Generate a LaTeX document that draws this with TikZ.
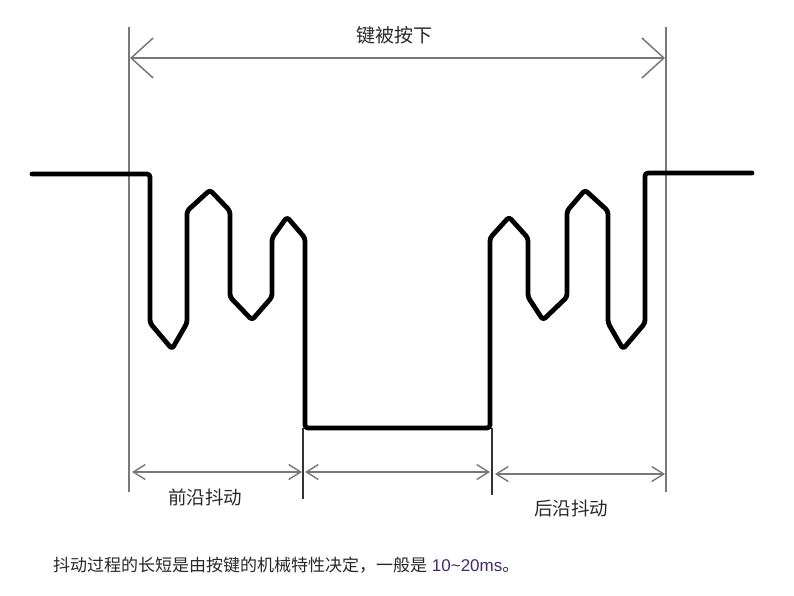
\documentclass[tikz,border=0pt]{standalone}
\usepackage{fontspec}
\setmainfont{Liberation Sans}
\newfontfamily\cjk{Noto Sans CJK SC}
\usetikzlibrary{arrows.meta}
\definecolor{dimgray}{RGB}{120,120,120}
\definecolor{txtgray}{RGB}{40,40,40}
\definecolor{numpurple}{RGB}{70,40,110}
\begin{document}
\begin{tikzpicture}[x=1pt,y=-1pt,
  signal/.style={line width=4.8pt,line join=round,line cap=round,black},
  guide/.style={line width=1.5pt,dimgray},
  guidedark/.style={line width=1.3pt,black!80},
  bigdim/.style={line width=1.5pt,dimgray,{Straight Barb[length=22pt,width=40pt,line width=1.5pt]}-{Straight Barb[length=22pt,width=40pt,line width=1.5pt]}},
  smalldim/.style={line width=1.5pt,dimgray,{Straight Barb[length=12pt,width=15pt,line width=1.4pt]}-{Straight Barb[length=12pt,width=15pt,line width=1.4pt]}},
  lbl/.style={inner sep=0pt,text=txtgray,font=\cjk\fontsize{18.5}{20}\selectfont}
]
\useasboundingbox[fill=white] (0,0) rectangle (794,595);

% guide lines
\coordinate (gLtop) at (129,27);
\coordinate (gLbot) at (129,492);
\coordinate (gRtop) at (666,27);
\coordinate (gRbot) at (666,492);
\coordinate (gM1top) at (303,428);
\coordinate (gM1bot) at (303,499);
\coordinate (gM2top) at (492,428);
\coordinate (gM2bot) at (492,495);
\draw[guide] (gLtop) -- (gLbot);
\draw[guide] (gRtop) -- (gRbot);
\draw[guidedark] (gM1top) -- (gM1bot);
\draw[guidedark] (gM2top) -- (gM2bot);

% top dimension
\coordinate (tA) at (130,58);
\coordinate (tB) at (665,58);
\draw[bigdim] (tA) -- (tB);
\node[lbl,font=\cjk\fontsize{19}{21}\selectfont] (top) at (394,35) {键被按下};

% bottom dimensions
\coordinate (b1a) at (132,472);
\coordinate (b1b) at (302,472);
\coordinate (b2a) at (305,472);
\coordinate (b2b) at (490,472);
\coordinate (b3a) at (495,474);
\coordinate (b3b) at (665,474);
\draw[smalldim] (b1a) -- (b1b);
\draw[smalldim] (b2a) -- (b2b);
\draw[smalldim] (b3a) -- (b3b);
\node[lbl] (front) at (205,497) {前沿抖动};
\node[lbl] (back) at (571,508) {后沿抖动};

% signal
\draw[signal,rounded corners=3pt] (32,174) -- (150,174) -- (150,323) -- (172,349) -- (187,323)
  -- (187,211) -- (210,190) -- (230,211) -- (230,297) -- (252,320) -- (272,297)
  -- (272,238) -- (287,217) -- (305,238) -- (305,428) -- (490,428)
  -- (490,238) -- (509,217) -- (528,238) -- (528,297) -- (543,320) -- (567,297)
  -- (567,211) -- (585,190) -- (608,211) -- (608,323) -- (623,349) -- (645,323)
  -- (645,173) -- (752,173);

% caption
\node[inner sep=0pt,anchor=west,text=txtgray,font=\fontsize{17}{19}\selectfont] (cap) at (53,565)
  {{\cjk 抖动过程的长短是由按键的机械特性决定，一般是} \textcolor{numpurple}{10\char`\~20ms}{\cjk 。}};
\end{tikzpicture}
\end{document}
